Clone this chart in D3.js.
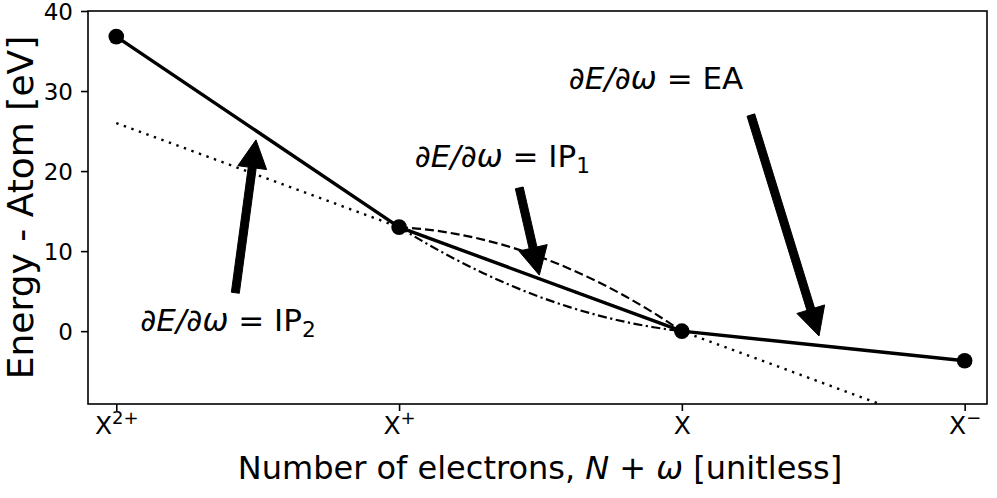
<!DOCTYPE html>
<html>
<head>
<meta charset="utf-8">
<script src="https://cdn.jsdelivr.net/npm/d3@7"></script>
<style>
  html, body { margin: 0; padding: 0; background: #fff; }
  svg { display: block; font-family: "DejaVu Sans", sans-serif; }
</style>
</head>
<body>
<svg id="chart" width="997" height="498"></svg>
<script>
// ---------------- data ----------------
const states = [0, 1, 2, 3];                        // X2+, X+, X, X-
const stateBase = ["X", "X", "X", "X"];
const stateSup = ["2+", "+", "", "\u2212"];
const energy = [36.8, 13.0, 0.0, -3.7];             // eV

const yTicks = [0, 10, 20, 30, 40];

// dotted tangent line through X+ and X
const tangentX = [0, 3];
const tangentY = [26.0, -13.0];

// fractional charge curves between X+ (x=1) and X (x=2)
const curveX = [1.0, 1.1, 1.2, 1.3, 1.4, 1.5, 1.6, 1.7, 1.8, 1.9, 2.0];
const concaveE = [13.0, 12.69, 12.16, 11.41, 10.44, 9.25, 7.84, 6.21, 4.36, 2.29, 0.0];   // dashed
const convexE  = [13.0, 10.89, 8.96, 7.21, 5.64, 4.25, 3.04, 2.01, 1.16, 0.49, 0.0];      // dash-dot

// annotations: label, text anchor (data), arrow tail and tip (data)
const annLabels = ["EA", "IP", "IP"];
const annSub = ["", "1", "2"];
const annTextX = [1.60, 1.055, 0.085];
const annTextY = [30.2, 20.5, 0.0];
const arrowTailX = [2.244, 1.425, 0.421];
const arrowTailY = [27.0, 17.9, 4.8];
const arrowTipX  = [2.485, 1.496, 0.494];
const arrowTipY  = [-0.6, 7.0, 23.9];

// ---------------- layout ----------------
const svg = d3.select("#chart");
const mLeft = 88, mRight = 987, mTop = 11, mBottom = 404;

const x = d3.scaleLinear().domain([-0.1, 3.079]).range([mLeft, mRight]);
const y = d3.scaleLinear().domain([-9.1, 40.0]).range([mBottom, mTop]);

svg.append("defs").append("clipPath").attr("id", "clip")
  .append("rect").attr("x", mLeft).attr("y", mTop)
  .attr("width", mRight - mLeft).attr("height", mBottom - mTop);

const plot = svg.append("g").attr("clip-path", "url(#clip)");

const line = d3.line().x(d => x(d[0])).y(d => y(d[1]));
const smooth = d3.line().curve(d3.curveMonotoneX).x(d => x(d[0])).y(d => y(d[1]));

// dotted tangent
plot.append("path")
  .attr("d", line(tangentX.map((v, i) => [v, tangentY[i]])))
  .attr("fill", "none").attr("stroke", "#000").attr("stroke-width", 2.4)
  .attr("stroke-dasharray", "2.4,5.6");

// dashed concave curve
plot.append("path")
  .attr("d", smooth(curveX.map((v, i) => [v, concaveE[i]])))
  .attr("fill", "none").attr("stroke", "#000").attr("stroke-width", 2.2)
  .attr("stroke-dasharray", "9,4");

// dash-dot convex curve
plot.append("path")
  .attr("d", smooth(curveX.map((v, i) => [v, convexE[i]])))
  .attr("fill", "none").attr("stroke", "#000").attr("stroke-width", 2.2)
  .attr("stroke-dasharray", "9,3.5,2.2,3.5");

// main solid line
plot.append("path")
  .attr("d", line(states.map((s, i) => [s, energy[i]])))
  .attr("fill", "none").attr("stroke", "#000").attr("stroke-width", 3.4)
  .attr("stroke-linejoin", "round");

plot.selectAll("circle.pt").data(states).join("circle")
  .attr("class", "pt")
  .attr("cx", d => x(d)).attr("cy", (d, i) => y(energy[i])).attr("r", 7.8)
  .attr("fill", "#000");

// arrows
const shaftW = 8, headW = 29, headL = 28;
function arrowPoly(x0, y0, x1, y1) {
  const dx = x1 - x0, dy = y1 - y0, L = Math.hypot(dx, dy);
  const ux = dx / L, uy = dy / L, nx = -uy, ny = ux;
  const bx = x1 - ux * headL, by = y1 - uy * headL;
  const pts = [
    [x0 + nx * shaftW / 2, y0 + ny * shaftW / 2],
    [bx + nx * shaftW / 2, by + ny * shaftW / 2],
    [bx + nx * headW / 2, by + ny * headW / 2],
    [x1, y1],
    [bx - nx * headW / 2, by - ny * headW / 2],
    [bx - nx * shaftW / 2, by - ny * shaftW / 2],
    [x0 - nx * shaftW / 2, y0 - ny * shaftW / 2]
  ];
  return "M" + pts.map(p => p.join(",")).join("L") + "Z";
}
svg.append("g").selectAll("path").data(annLabels).join("path")
  .attr("d", (d, i) => arrowPoly(x(arrowTailX[i]), y(arrowTailY[i]), x(arrowTipX[i]), y(arrowTipY[i])))
  .attr("fill", "#000").attr("stroke", "#000").attr("stroke-width", 1);

// annotation texts
const annFs = 31;
const ann = svg.append("g").selectAll("text").data(annLabels).join("text")
  .attr("x", (d, i) => x(annTextX[i])).attr("y", (d, i) => y(annTextY[i]))
  .attr("font-size", annFs).attr("fill", "#000");
ann.each(function (d, i) {
  const t = d3.select(this);
  t.append("tspan").attr("font-style", "italic").text("\u2202E/\u2202\u03c9");
  t.append("tspan").text(" = " + d);
  if (annSub[i]) {
    t.append("tspan").attr("font-size", annFs * 0.7).attr("dy", annFs * 0.2).text(annSub[i]);
  }
});

// frame
svg.append("rect").attr("x", mLeft).attr("y", mTop)
  .attr("width", mRight - mLeft).attr("height", mBottom - mTop)
  .attr("fill", "none").attr("stroke", "#000").attr("stroke-width", 1.6);

// y axis
const yAxis = svg.append("g").attr("transform", `translate(${mLeft},0)`)
  .call(d3.axisLeft(y).tickValues(yTicks).tickSize(7).tickPadding(8).tickFormat(d3.format("d")));
yAxis.select(".domain").remove();
yAxis.selectAll("line").attr("stroke-width", 1.6);
yAxis.selectAll("text").attr("font-size", 23).attr("font-family", "DejaVu Sans").attr("dy", "0.38em");

// x axis
const xAxis = svg.append("g").attr("transform", `translate(0,${mBottom})`)
  .call(d3.axisBottom(x).tickValues(states).tickSize(7).tickPadding(5).tickFormat(() => ""));
xAxis.select(".domain").remove();
xAxis.selectAll("line").attr("stroke-width", 1.6);
xAxis.selectAll("text").attr("font-size", 25).attr("font-family", "DejaVu Sans")
  .each(function (d, i) {
    const t = d3.select(this);
    t.append("tspan").text(stateBase[i]);
    if (stateSup[i]) t.append("tspan").attr("font-size", 18).attr("dy", -10).text(stateSup[i]);
  });

// axis labels
const xl = svg.append("text").attr("x", 540).attr("y", 479).attr("text-anchor", "middle")
  .attr("font-size", 32).attr("fill", "#000");
xl.append("tspan").text("Number of electrons, ");
xl.append("tspan").attr("font-style", "italic").text("N");
xl.append("tspan").text(" + ");
xl.append("tspan").attr("font-style", "italic").text("\u03c9");
xl.append("tspan").text(" [unitless]");

svg.append("text").attr("transform", `translate(33,${(mTop + mBottom) / 2}) rotate(-90)`)
  .attr("text-anchor", "middle").attr("font-size", 36).attr("fill", "#000")
  .text("Energy - Atom [eV]");
</script>
</body>
</html>
